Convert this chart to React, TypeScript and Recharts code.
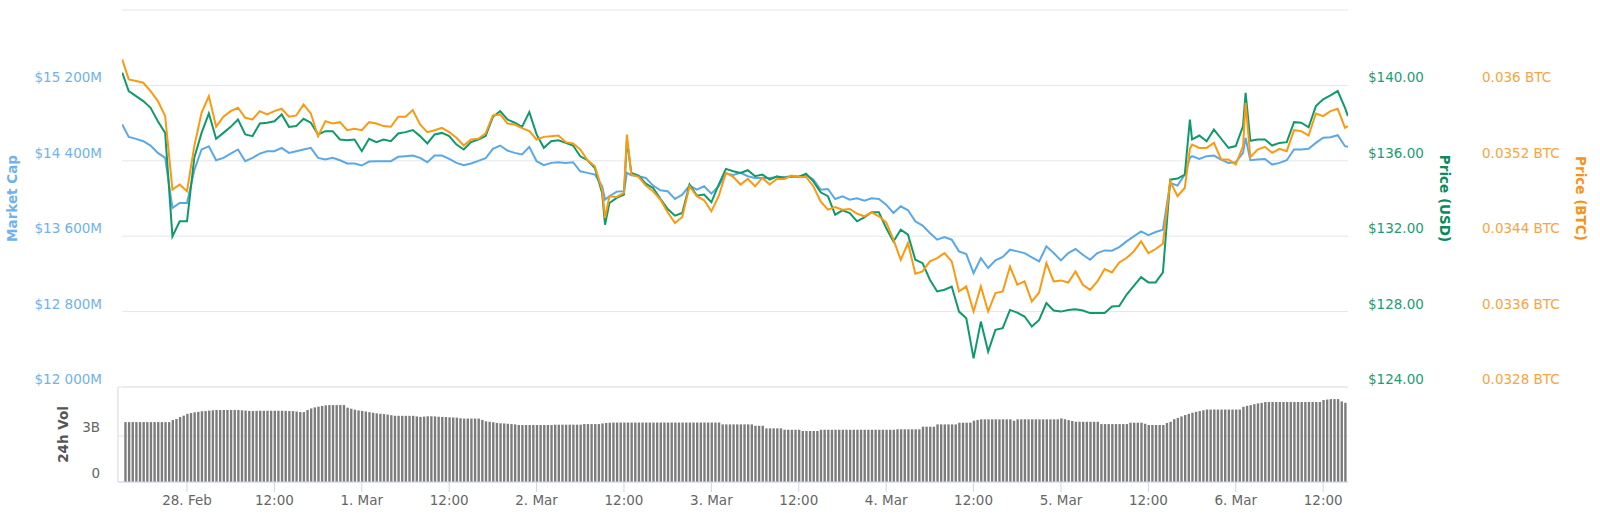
import React from 'react';
import { LineChart, Line, XAxis, YAxis, CartesianGrid, BarChart, Bar } from 'recharts';

// Hours relative to 28 Feb 00:00
const HOURS = [
  -8.9, -8, -7, -6, -5, -4, -3, -2, -1, 0,
  1, 2, 3, 4, 5, 6, 7, 8, 9, 10,
  11, 12, 13, 14, 15, 16, 17, 18, 19, 20,
  21, 22, 23, 24, 25, 26, 27, 28, 29, 30,
  31, 32, 33, 34, 35, 36, 37, 38, 39, 40,
  41, 42, 43, 44, 45, 46, 47, 48, 49, 50,
  51, 52, 53, 54, 55, 56, 57, 57.4, 58, 59,
  60, 60.4, 61, 62, 63, 64, 65, 66, 67, 68,
  69, 70, 71, 72, 73, 74, 75, 76, 77, 78,
  79, 80, 81, 82, 83, 84, 85, 86, 87, 88,
  89, 90, 91, 92, 93, 94, 95, 96, 97, 98,
  99, 100, 101, 102, 103, 104, 105, 106, 107, 108,
  109, 110, 111, 112, 113, 114, 115, 116, 117, 118,
  119, 120, 121, 122, 123, 124, 125, 126, 127, 128,
  129, 130, 131, 132, 133, 134, 135, 136, 137, 137.7,
  138, 139, 140, 141, 142, 143, 144, 145, 145.35, 146,
  147, 148, 149, 150, 151, 152, 153, 154, 155, 156,
  157, 158, 159, 159.4,
];

// Market cap, millions USD
const MARKET_CAP = [
  14785, 14654, 14633, 14608, 14562, 14484, 14431, 13900, 13953, 13953,
  14300, 14520, 14555, 14406, 14431, 14477, 14520, 14396, 14431, 14477,
  14502, 14502, 14537, 14484, 14502, 14520, 14537, 14431, 14413, 14431,
  14406, 14371, 14371, 14350, 14392, 14396, 14396, 14396, 14442, 14449,
  14456, 14431, 14385, 14456, 14456, 14420, 14378, 14353, 14371, 14399,
  14427, 14527, 14562, 14509, 14484, 14467, 14548, 14396, 14353, 14378,
  14385, 14378, 14385, 14289, 14272, 14254, 14130, 13988, 14024, 14073,
  14077, 14272, 14247, 14236, 14218, 14137, 14087, 14077, 13995, 14041,
  14137, 14094, 14130, 14052, 14130, 14264, 14250, 14272, 14236, 14218,
  14218, 14218, 14229, 14229, 14233, 14236, 14250, 14201, 14094, 14101,
  13995, 14024, 13988, 14002, 13977, 14002, 13995, 13935, 13846, 13917,
  13875, 13758, 13712, 13634, 13563, 13591, 13563, 13439, 13410, 13208,
  13368, 13262, 13343, 13379, 13457, 13439, 13421, 13375, 13332, 13492,
  13421, 13343, 13421, 13464, 13403, 13350, 13421, 13449, 13446, 13485,
  13545, 13598, 13651, 13612, 13644, 13669, 14165, 14137, 14254, 14431,
  14449, 14420, 14449, 14456, 14413, 14378, 14385, 14484, 14644, 14406,
  14413, 14420, 14360, 14378, 14406, 14520, 14520, 14527, 14590, 14644,
  14651, 14672, 14555, 14548,
];

// Price in USD
const PRICE_USD = [
  140.68, 139.7, 139.43, 139.17, 138.81, 138.1, 137.48, 131.99, 132.79, 132.79,
  136.16, 137.48, 138.51, 137.17, 137.48, 137.8, 138.19, 137.4, 137.31, 137.98,
  138.02, 138.1, 138.46, 137.8, 137.84, 138.23, 138.02, 137.4, 137.57, 137.57,
  137.13, 137.09, 137.13, 136.51, 137.17, 136.99, 137.13, 137.04, 137.45, 137.52,
  137.63, 137.31, 136.92, 137.4, 137.48, 137.31, 136.86, 136.6, 136.99, 137.13,
  137.31, 138.33, 138.64, 138.19, 138.02, 137.8, 138.58, 137.4, 136.69, 137.04,
  137.09, 136.95, 136.81, 136.24, 136.03, 135.62, 134.29, 132.61, 133.76, 134.03,
  134.21, 137.13, 135.36, 135.22, 134.79, 134.56, 133.98, 133.44, 133.09, 133.23,
  134.74, 134.15, 134.21, 133.8, 134.74, 135.57, 135.45, 135.36, 135.5, 135.18,
  135.27, 135.0, 135.18, 135.09, 135.18, 135.14, 135.32, 134.91, 134.33, 134.12,
  133.14, 133.37, 133.23, 132.79, 133.0, 133.27, 133.27, 132.43, 131.72, 132.35,
  132.08, 130.75, 130.57, 129.69, 129.07, 129.16, 129.33, 128.0, 127.65, 125.52,
  127.47, 125.88, 127.03, 127.12, 128.09, 127.95, 127.74, 127.21, 127.56, 128.45,
  128.06, 128.0, 128.09, 128.13, 128.06, 127.92, 127.92, 127.92, 128.27, 128.3,
  128.89, 129.37, 129.83, 129.55, 129.55, 130.08, 135.0, 135.06, 135.27, 138.19,
  137.13, 137.34, 137.04, 137.66, 137.17, 136.69, 136.78, 137.84, 139.61, 137.06,
  137.13, 137.13, 136.81, 136.95, 136.99, 138.05, 138.02, 137.78, 138.9, 139.26,
  139.47, 139.7, 138.81, 138.37,
];

// Price in BTC
const PRICE_BTC = [
  0.036276, 0.036064, 0.036046, 0.036028, 0.03594, 0.035833, 0.035674, 0.034894, 0.034948, 0.034877,
  0.035355, 0.035709, 0.035887, 0.035561, 0.035667, 0.035727, 0.035763, 0.035656, 0.035639, 0.035727,
  0.035692, 0.035727, 0.035752, 0.035667, 0.035681, 0.035798, 0.035702, 0.035461, 0.035621, 0.035596,
  0.03561, 0.035525, 0.035539, 0.035525, 0.03561, 0.035596, 0.035568, 0.035561, 0.035667, 0.035667,
  0.035738, 0.035585, 0.035504, 0.035525, 0.03555, 0.035504, 0.035444, 0.035362, 0.035426, 0.035433,
  0.03549, 0.035681, 0.035692, 0.035596, 0.035585, 0.035546, 0.035515, 0.035426, 0.035454, 0.035461,
  0.035468, 0.035398, 0.035383, 0.03532, 0.035206, 0.035142, 0.034894, 0.034593, 0.034824, 0.034817,
  0.034859, 0.035479, 0.035054, 0.035029, 0.034937, 0.034877, 0.034788, 0.034654, 0.03454, 0.034604,
  0.03493, 0.034824, 0.034781, 0.034664, 0.034824, 0.035072, 0.035029, 0.034948, 0.035008, 0.03493,
  0.035019, 0.034948, 0.035008, 0.035008, 0.035043, 0.035029, 0.035029, 0.03493, 0.03477, 0.034682,
  0.03471, 0.034682, 0.034689, 0.034639, 0.034611, 0.034654, 0.034611, 0.034547, 0.034363, 0.03415,
  0.034328, 0.034002, 0.034026, 0.034133, 0.034168, 0.034221, 0.034133, 0.033814, 0.033867, 0.033601,
  0.033867, 0.033601, 0.033796, 0.033814, 0.034079, 0.033885, 0.03392, 0.033707, 0.033803, 0.034115,
  0.03392, 0.033931, 0.033909, 0.034026, 0.033885, 0.033831, 0.03392, 0.034051, 0.034016, 0.034122,
  0.034168, 0.034239, 0.034345, 0.034221, 0.034264, 0.03432, 0.034983, 0.034824, 0.034912, 0.035327,
  0.035373, 0.035337, 0.035337, 0.035391, 0.035213, 0.035213, 0.03516, 0.035355, 0.035816, 0.035238,
  0.03532, 0.035348, 0.035284, 0.035327, 0.035302, 0.035525, 0.035515, 0.035468, 0.035702, 0.035674,
  0.035727, 0.035752, 0.03555, 0.035568,
];

// 24h volume, billions USD, one bar every half hour starting at hour -8.5
const VOL_START = -8.5;
const VOL_STEP = 0.5;
const VOLUME = [
  3.91, 3.91, 3.91, 3.91, 3.91, 3.91, 3.91, 3.91, 3.91, 3.91,
  3.91, 3.91, 3.91, 4.05, 4.11, 4.24, 4.33, 4.45, 4.5, 4.55,
  4.58, 4.62, 4.63, 4.66, 4.68, 4.7, 4.7, 4.7, 4.7, 4.7,
  4.7, 4.7, 4.68, 4.66, 4.64, 4.63, 4.64, 4.65, 4.65, 4.65,
  4.65, 4.65, 4.65, 4.65, 4.64, 4.63, 4.63, 4.6, 4.57, 4.56,
  4.7, 4.8, 4.87, 4.92, 4.96, 5.0, 5.02, 5.02, 5.02, 5.02,
  5.02, 4.85, 4.78, 4.72, 4.67, 4.64, 4.6, 4.56, 4.52, 4.48,
  4.45, 4.43, 4.4, 4.36, 4.32, 4.32, 4.32, 4.32, 4.32, 4.32,
  4.28, 4.25, 4.27, 4.29, 4.29, 4.28, 4.26, 4.25, 4.24, 4.22,
  4.21, 4.2, 4.16, 4.14, 4.14, 4.14, 4.14, 4.14, 4.05, 3.96,
  3.93, 3.9, 3.85, 3.83, 3.82, 3.8, 3.78, 3.76, 3.72, 3.72,
  3.72, 3.72, 3.72, 3.72, 3.72, 3.72, 3.72, 3.72, 3.74, 3.74,
  3.74, 3.74, 3.74, 3.74, 3.74, 3.74, 3.78, 3.78, 3.78, 3.78,
  3.78, 3.82, 3.85, 3.87, 3.88, 3.88, 3.88, 3.88, 3.88, 3.88,
  3.88, 3.88, 3.88, 3.88, 3.88, 3.88, 3.88, 3.88, 3.88, 3.88,
  3.88, 3.88, 3.88, 3.88, 3.88, 3.88, 3.88, 3.88, 3.88, 3.88,
  3.88, 3.88, 3.88, 3.88, 3.76, 3.76, 3.76, 3.76, 3.76, 3.76,
  3.76, 3.76, 3.76, 3.67, 3.67, 3.67, 3.5, 3.5, 3.5, 3.5,
  3.5, 3.41, 3.41, 3.41, 3.41, 3.41, 3.33, 3.33, 3.33, 3.33,
  3.33, 3.41, 3.41, 3.41, 3.41, 3.41, 3.41, 3.41, 3.41, 3.41,
  3.41, 3.41, 3.41, 3.41, 3.41, 3.41, 3.41, 3.41, 3.41, 3.41,
  3.41, 3.41, 3.44, 3.44, 3.44, 3.44, 3.44, 3.44, 3.44, 3.61,
  3.61, 3.61, 3.61, 3.76, 3.76, 3.76, 3.76, 3.76, 3.76, 3.87,
  3.87, 3.87, 3.87, 4.0, 4.05, 4.09, 4.09, 4.09, 4.09, 4.09,
  4.09, 4.09, 4.09, 4.09, 4.0, 4.09, 4.09, 4.09, 4.09, 4.09,
  4.09, 4.09, 4.09, 4.09, 4.09, 4.09, 4.09, 4.15, 4.1, 4.04,
  3.98, 3.93, 3.93, 3.93, 3.93, 3.93, 3.93, 3.93, 3.78, 3.78,
  3.78, 3.78, 3.78, 3.78, 3.78, 3.78, 3.87, 3.87, 3.87, 3.87,
  3.8, 3.72, 3.72, 3.72, 3.72, 3.72, 3.85, 3.93, 4.1, 4.18,
  4.28, 4.37, 4.45, 4.52, 4.58, 4.63, 4.68, 4.73, 4.73, 4.73,
  4.73, 4.73, 4.73, 4.73, 4.73, 4.73, 4.73, 4.91, 4.97, 5.02,
  5.08, 5.13, 5.16, 5.22, 5.22, 5.22, 5.22, 5.22, 5.22, 5.22,
  5.22, 5.22, 5.22, 5.22, 5.22, 5.22, 5.22, 5.22, 5.22, 5.35,
  5.38, 5.41, 5.41, 5.41, 5.26, 5.17,
];

const X_TICKS = [0, 12, 24, 36, 48, 60, 72, 84, 96, 108, 120, 132, 144, 156];
const X_LABELS = ['28. Feb', '12:00', '1. Mar', '12:00', '2. Mar', '12:00', '3. Mar', '12:00', '4. Mar', '12:00', '5. Mar', '12:00', '6. Mar', '12:00'];
const MC_TICKS = [12000, 12800, 13600, 14400, 15200, 16000];
const USD_TICKS = [124, 128, 132, 136, 140, 144];
const BTC_TICKS = [0.0328, 0.0336, 0.0344, 0.0352, 0.036, 0.0368];
const VOL_TICKS = [0, 3];

const X_DOMAIN: [number, number] = [-8.925, 159.41];

const FONT = '"DejaVu Sans", sans-serif';
const FS = 13.5;
const C_MC_LINE = '#5aa9e6';
const C_MC_TEXT = '#6fb3ea';
const C_USD_LINE = '#0f9a6b';
const C_USD_TEXT = '#1d9c70';
const C_USD_TITLE = '#0b8a5c';
const C_BTC_LINE = '#fa9a12';
const C_BTC_TEXT = '#f9a43f';
const C_BTC_TITLE = '#f7931a';

const lineData = HOURS.map((t, i) => ({ t, mc: MARKET_CAP[i], usd: PRICE_USD[i], btc: PRICE_BTC[i] }));
const volData = VOLUME.map((v, i) => ({ t: VOL_START + i * VOL_STEP, v }));

const fmtMc = (v: number) => {
  const s = String(Math.round(v));
  const head = s.slice(0, s.length - 3);
  const tail = s.slice(s.length - 3);
  return `$${head} ${tail}M`;
};

const McTick = (p: any) => {
  const v = p.payload.value;
  if (v === 16000) return <g />;
  return (
    <text x={102} y={p.y - 3} textAnchor="end" fill={C_MC_TEXT} fontSize={FS} fontFamily={FONT}>
      {fmtMc(v)}
    </text>
  );
};

const UsdTick = (p: any) => {
  const v = p.payload.value;
  if (v === 144) return <g />;
  return (
    <text x={1368} y={p.y - 3} textAnchor="start" fill={C_USD_TEXT} fontSize={FS} fontFamily={FONT}>
      {`$${v.toFixed(2)}`}
    </text>
  );
};

const BtcTick = (p: any) => {
  const v = p.payload.value;
  if (Math.abs(v - 0.0368) < 1e-9) return <g />;
  return (
    <text x={1482} y={p.y - 3} textAnchor="start" fill={C_BTC_TEXT} fontSize={FS} fontFamily={FONT}>
      {`${Number(v.toFixed(4))} BTC`}
    </text>
  );
};

const VolTick = (p: any) => {
  const v = p.payload.value;
  return (
    <text x={100} y={p.y - 4} textAnchor="end" fill="#666666" fontSize={FS} fontFamily={FONT}>
      {v === 0 ? '0' : `${v}B`}
    </text>
  );
};

const XTick = (p: any) => {
  const idx = X_TICKS.indexOf(p.payload.value);
  return (
    <text x={p.x} y={p.y} dy="0.71em" textAnchor="middle" fill="#666666" fontSize={FS} fontFamily={FONT}>
      {idx >= 0 ? X_LABELS[idx] : ''}
    </text>
  );
};

// Axis titles: horizontal centre fixed, vertical centre taken from the axis box
const makeTitle = (text: string, color: string, cx: number, angle: number) => (props: any) => {
  const vb = props.viewBox || {};
  const x = cx;
  const y = (vb.y || 0) + (vb.height || 0) / 2;
  return (
    <text
      x={x}
      y={y}
      transform={`rotate(${angle}, ${x}, ${y})`}
      textAnchor="middle"
      dominantBaseline="central"
      fill={color}
      fontSize={13.5}
      fontWeight="bold"
      fontFamily={FONT}
    >
      {text}
    </text>
  );
};

export default function App() {
  return (
    <div style={{ position: 'absolute', left: 0, top: 0, width: 1600, height: 513, background: '#ffffff' }}>
      <div style={{ position: 'absolute', left: 0, top: 0 }}>
        <LineChart width={1600} height={390} data={lineData} margin={{ top: 10, right: 0, bottom: 3, left: 0 }}>
          <CartesianGrid yAxisId="mc" horizontal vertical={false} stroke="#e6e6e6" />
          <XAxis dataKey="t" type="number" domain={X_DOMAIN} allowDataOverflow hide />
          <YAxis
            yAxisId="mc"
            orientation="left"
            width={122}
            domain={[12000, 16000]}
            ticks={MC_TICKS}
            interval={0}
            allowDataOverflow
            axisLine={false}
            tickLine={false}
            tick={McTick}
            label={makeTitle('Market Cap', C_MC_TEXT, 12, -90)}
          />
          <YAxis
            yAxisId="usd"
            orientation="right"
            width={126}
            domain={[124, 144]}
            ticks={USD_TICKS}
            interval={0}
            allowDataOverflow
            axisLine={false}
            tickLine={false}
            tick={UsdTick}
            label={makeTitle('Price (USD)', C_USD_TITLE, 1445, 90)}
          />
          <YAxis
            yAxisId="btc"
            orientation="right"
            width={126}
            domain={[0.0328, 0.0368]}
            ticks={BTC_TICKS}
            interval={0}
            allowDataOverflow
            axisLine={false}
            tickLine={false}
            tick={BtcTick}
            label={makeTitle('Price (BTC)', C_BTC_TITLE, 1581, 90)}
          />
          <Line yAxisId="mc" dataKey="mc" type="linear" stroke={C_MC_LINE} strokeWidth={2} dot={false} isAnimationActive={false} />
          <Line yAxisId="usd" dataKey="usd" type="linear" stroke={C_USD_LINE} strokeWidth={2} dot={false} isAnimationActive={false} />
          <Line yAxisId="btc" dataKey="btc" type="linear" stroke={C_BTC_LINE} strokeWidth={2} dot={false} isAnimationActive={false} />
        </LineChart>
      </div>
      <div style={{ position: 'absolute', left: 0, top: 0 }}>
        <BarChart width={1600} height={513} data={volData} margin={{ top: 387, right: 252, bottom: 0, left: 0 }}>
          <CartesianGrid yAxisId="vol" horizontal vertical={false} stroke="#e6e6e6" />
          <XAxis
            dataKey="t"
            type="number"
            domain={X_DOMAIN}
            allowDataOverflow
            ticks={X_TICKS}
            interval={0}
            padding={{ left: 4, right: 0 }}
            height={31}
            tickSize={10}
            tickMargin={3}
            axisLine={{ stroke: '#ccd6eb' }}
            tickLine={{ stroke: '#ccd6eb' }}
            tick={XTick}
          />
          <YAxis
            yAxisId="vol"
            orientation="left"
            width={118}
            domain={[0, 6.2]}
            ticks={VOL_TICKS}
            interval={0}
            allowDataOverflow
            axisLine={{ stroke: '#ccd6eb' }}
            tickLine={false}
            tick={VolTick}
            label={makeTitle('24h Vol', '#555555', 63, -90)}
          />
          <Bar yAxisId="vol" dataKey="v" fill="#7c7c7c" barSize={2.4} isAnimationActive={false} />
        </BarChart>
      </div>
    </div>
  );
}
